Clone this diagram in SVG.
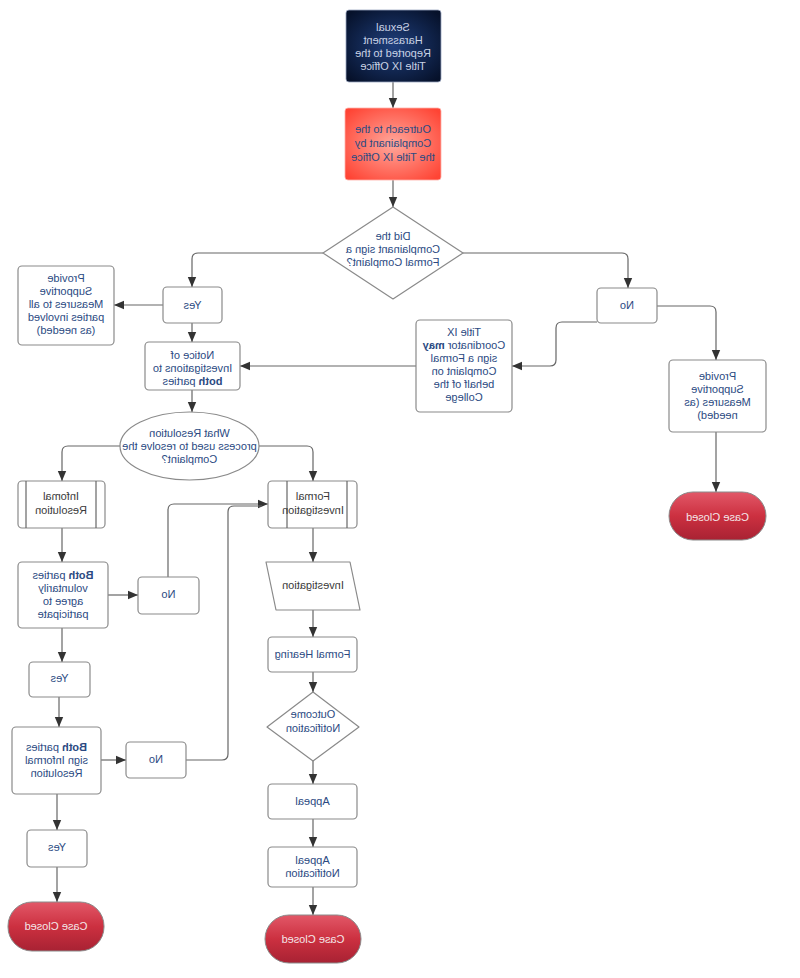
<svg xmlns="http://www.w3.org/2000/svg" width="800" height="978" viewBox="0 0 800 978">
<defs>
<radialGradient id="gNavy" cx="50%" cy="50%" r="65%">
<stop offset="0" stop-color="#1f3f7c"/><stop offset="1" stop-color="#06112a"/>
</radialGradient>
<radialGradient id="gRed" cx="50%" cy="50%" r="65%">
<stop offset="0" stop-color="#ffa89c"/><stop offset="1" stop-color="#ff4434"/>
</radialGradient>
<linearGradient id="gCase" x1="0" y1="0" x2="0" y2="1">
<stop offset="0" stop-color="#e25868"/><stop offset="0.5" stop-color="#cc3040"/><stop offset="1" stop-color="#a82233"/>
</linearGradient>
<marker id="arr" markerUnits="userSpaceOnUse" markerWidth="10" markerHeight="10" viewBox="0 0 10 10" refX="10" refY="5" orient="auto">
<path d="M0 0.8 L10 5 L0 9.2 Z" fill="#333"/>
</marker>
</defs>
<style>
.box{fill:#fff;stroke:#8a8a8a;stroke-width:1.2}
.case{fill:url(#gCase);stroke:#8a8a8a;stroke-width:1}
.c{fill:none;stroke:#666;stroke-width:1.2;marker-end:url(#arr)}
.cn{fill:none;stroke:#666;stroke-width:1.2}
text{font-family:"Liberation Sans",Arial,sans-serif;font-size:11px;text-anchor:middle;fill:#2b4a82}
.g{fill:#3a3a3a}
.w{fill:#f3e6e8}
.lw{fill:#c9d2e4}
.b{font-weight:bold}
</style>
<rect width="800" height="978" fill="#fff"/>

<g id="connectors">
<path class="c" d="M393 82 V108"/>
<path class="c" d="M393 180 V207"/>
<path class="c" d="M323 253 H198 Q192 253 192 259 V287"/>
<path class="c" d="M463 253 H622 Q628 253 628 259 V288"/>
<path class="c" d="M163 305 H114"/>
<path class="c" d="M192 323 V342"/>
<path class="c" d="M416 366 H240"/>
<path class="c" d="M597 322 H562 Q556 322 556 328 V360 Q556 366 550 366 H512"/>
<path class="c" d="M657 306 H710 Q716 306 716 312 V360"/>
<path class="c" d="M716 432 V492"/>
<path class="c" d="M192 390 V412"/>
<path class="c" d="M120 446 H68 Q62 446 62 452 V481"/>
<path class="c" d="M259 446 H307 Q313 446 313 452 V481"/>
<path class="c" d="M62 528 V562"/>
<path class="c" d="M313 528 V562"/>
<path class="c" d="M108 595 H138"/>
<path class="c" d="M168 577 V510 Q168 504 174 504 H268"/>
<path class="cn" d="M186 760 H222 Q228 760 228 754 V512 Q228 506 234 506 H262"/>
<path class="c" d="M62 628 V662"/>
<path class="c" d="M59 697 V727"/>
<path class="c" d="M101 760 H126"/>
<path class="c" d="M313 610 V637"/>
<path class="c" d="M313 672 V692"/>
<path class="c" d="M313 761 V784"/>
<path class="c" d="M313 819 V847"/>
<path class="c" d="M313 887 V915"/>
<path class="c" d="M57 794 V830"/>
<path class="c" d="M57 867 V902"/>
</g>

<g id="n-reported">
<rect x="346" y="10" width="95" height="72" rx="3" fill="url(#gNavy)" stroke="#9aa6c0" stroke-width="0.8"/>
<text class="lw" transform="scale(-1,1)"><tspan x="-393" y="31">Sexual</tspan><tspan x="-393" y="44">Harassment</tspan><tspan x="-393" y="57">Reported to the</tspan><tspan x="-393" y="70">Title IX Office</tspan></text>
</g>

<g id="n-outreach">
<rect x="345" y="108" width="96" height="72" rx="3" fill="url(#gRed)" stroke="#ffb0a8" stroke-width="0.8"/>
<text transform="scale(-1,1)"><tspan x="-393" y="133">Outreach to the</tspan><tspan x="-393" y="147">Complainant by</tspan><tspan x="-393" y="161">the Title IX Office</tspan></text>
</g>

<g id="n-did">
<polygon class="box" stroke-linejoin="round" points="393,207 463,253 393,299 323,253"/>
<text transform="scale(-1,1)"><tspan x="-393" y="240">Did the</tspan><tspan x="-393" y="253">Complainant sign a</tspan><tspan x="-393" y="266">Formal Complaint?</tspan></text>
</g>

<g id="n-yes1">
<rect class="box" x="163" y="287" width="59" height="36" rx="4"/>
<text transform="scale(-1,1)" x="-192.5" y="309">Yes</text>
</g>

<g id="n-provide-all">
<rect class="box" x="18" y="266" width="96" height="79" rx="4"/>
<text transform="scale(-1,1)"><tspan x="-66" y="282">Provide</tspan><tspan x="-66" y="295">Supportive</tspan><tspan x="-66" y="308">Measures to all</tspan><tspan x="-66" y="321">parties involved</tspan><tspan x="-66" y="334">(as needed)</tspan></text>
</g>

<g id="n-notice">
<rect class="box" x="145" y="342" width="95" height="48" rx="4"/>
<text transform="scale(-1,1)"><tspan x="-192.5" y="359">Notice of</tspan><tspan x="-192.5" y="372">Investigations to</tspan><tspan x="-192.5" y="385"><tspan class="b">both</tspan> parties</tspan></text>
</g>

<g id="n-no1">
<rect class="box" x="597" y="288" width="60" height="35" rx="4"/>
<text transform="scale(-1,1)" x="-627" y="309">No</text>
</g>

<g id="n-titleix">
<rect class="box" x="416" y="320" width="96" height="92" rx="4"/>
<text transform="scale(-1,1)"><tspan x="-464" y="336">Title IX</tspan><tspan x="-464" y="349">Coordinator <tspan class="b">may</tspan></tspan><tspan x="-464" y="362">sign a Formal</tspan><tspan x="-464" y="375">Complaint on</tspan><tspan x="-464" y="388">behalf of the</tspan><tspan x="-464" y="401">College</tspan></text>
</g>

<g id="n-provide-needed">
<rect class="box" x="669" y="360" width="97" height="72" rx="4"/>
<text transform="scale(-1,1)"><tspan x="-717.5" y="380">Provide</tspan><tspan x="-717.5" y="393">Supportive</tspan><tspan x="-717.5" y="406">Measures (as</tspan><tspan x="-717.5" y="419">needed)</tspan></text>
</g>

<g id="n-case-right">
<rect class="case" x="669" y="492" width="97" height="48" rx="24"/>
<text class="w" transform="scale(-1,1)" x="-717.5" y="521">Case Closed</text>
</g>

<g id="n-what">
<ellipse class="box" cx="189.5" cy="446" rx="69.5" ry="34" stroke="#666"/>
<text transform="scale(-1,1)"><tspan x="-189.5" y="437">What Resolution</tspan><tspan x="-189.5" y="450">process used to resolve the</tspan><tspan x="-189.5" y="463">Complaint?</tspan></text>
</g>

<g id="n-informal">
<rect class="box" x="18" y="481" width="87" height="47" rx="4"/>
<line class="cn" x1="26" y1="481" x2="26" y2="528"/>
<line class="cn" x1="96" y1="481" x2="96" y2="528"/>
<text class="g" transform="scale(-1,1)"><tspan x="-61" y="500">Infomal</tspan><tspan x="-61" y="514">Resolution</tspan></text>
</g>

<g id="n-formal-inv">
<rect class="box" x="268" y="481" width="89" height="47" rx="4"/>
<line class="cn" x1="287" y1="481" x2="287" y2="528"/>
<line class="cn" x1="347" y1="481" x2="347" y2="528"/>
<text class="g" transform="scale(-1,1)"><tspan x="-313" y="500">Formal</tspan><tspan x="-313" y="514">Investigation</tspan></text>
</g>

<g id="n-both-vol">
<rect class="box" x="18" y="562" width="90" height="66" rx="4"/>
<text transform="scale(-1,1)"><tspan x="-63" y="579"><tspan class="b">Both</tspan> parties</tspan><tspan x="-63" y="592">voluntarily</tspan><tspan x="-63" y="605">agree to</tspan><tspan x="-63" y="618">participate</tspan></text>
</g>

<g id="n-no2">
<rect class="box" x="138" y="577" width="61" height="37" rx="4"/>
<text transform="scale(-1,1)" x="-168.5" y="598">No</text>
</g>

<g id="n-investigation">
<polygon class="box" stroke-linejoin="round" points="266,562 350,562 360,610 276,610"/>
<text class="g" transform="scale(-1,1)" x="-313" y="589">Investigation</text>
</g>

<g id="n-hearing">
<rect class="box" x="268" y="637" width="89" height="35" rx="4"/>
<text transform="scale(-1,1)" x="-312.5" y="658">Formal Hearing</text>
</g>

<g id="n-outcome">
<polygon class="box" stroke-linejoin="round" points="313,692 359,727 313,761 267,727"/>
<text transform="scale(-1,1)"><tspan x="-313" y="718">Outcome</tspan><tspan x="-313" y="732">Notification</tspan></text>
</g>

<g id="n-yes2">
<rect class="box" x="29" y="662" width="61" height="35" rx="4"/>
<text transform="scale(-1,1)" x="-59.5" y="682">Yes</text>
</g>

<g id="n-both-sign">
<rect class="box" x="12" y="727" width="89" height="67" rx="4"/>
<text transform="scale(-1,1)"><tspan x="-56.5" y="751"><tspan class="b">Both</tspan> parties</tspan><tspan x="-56.5" y="764">sign Informal</tspan><tspan x="-56.5" y="777">Resolution</tspan></text>
</g>

<g id="n-no3">
<rect class="box" x="126" y="742" width="60" height="36" rx="4"/>
<text transform="scale(-1,1)" x="-156" y="763">No</text>
</g>

<g id="n-appeal">
<rect class="box" x="268" y="784" width="89" height="35" rx="4"/>
<text transform="scale(-1,1)" x="-312.5" y="805">Appeal</text>
</g>

<g id="n-appeal-notif">
<rect class="box" x="268" y="847" width="89" height="40" rx="4"/>
<text transform="scale(-1,1)"><tspan x="-312.5" y="864">Appeal</tspan><tspan x="-312.5" y="877">Notification</tspan></text>
</g>

<g id="n-yes3">
<rect class="box" x="27" y="830" width="60" height="37" rx="4"/>
<text transform="scale(-1,1)" x="-57" y="851">Yes</text>
</g>

<g id="n-case-left">
<rect class="case" x="8" y="902" width="96" height="49" rx="24"/>
<text class="w" transform="scale(-1,1)" x="-56" y="930">Case Closed</text>
</g>

<g id="n-case-center">
<rect class="case" x="265" y="915" width="96" height="48" rx="24"/>
<text class="w" transform="scale(-1,1)" x="-313" y="943">Case Closed</text>
</g>
</svg>
